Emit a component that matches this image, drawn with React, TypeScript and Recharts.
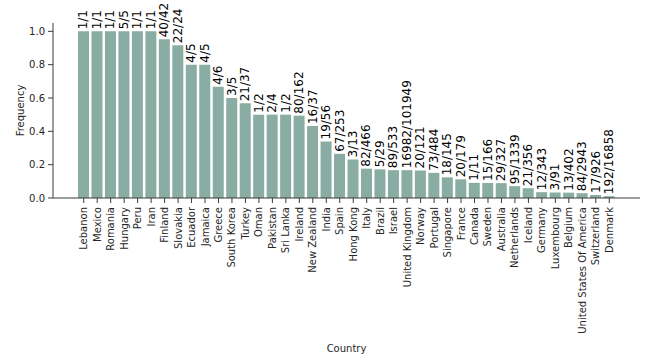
import { Bar, BarChart, Label, LabelList, XAxis, YAxis } from "recharts";

const countries = [
  "Lebanon", "Mexico", "Romania", "Hungary", "Peru", "Iran", "Finland", "Slovakia",
  "Ecuador", "Jamaica", "Greece", "South Korea", "Turkey", "Oman", "Pakistan",
  "Sri Lanka", "Ireland", "New Zealand", "India", "Spain", "Hong Kong", "Italy",
  "Brazil", "Israel", "United Kingdom", "Norway", "Portugal", "Singapore", "France",
  "Canada", "Sweden", "Australia", "Netherlands", "Iceland", "Germany", "Luxembourg",
  "Belgium", "United States Of America", "Switzerland", "Denmark",
];

const frequency = [
  1, 1, 1, 1, 1, 1, 0.952, 0.917,
  0.8, 0.8, 0.667, 0.6, 0.568, 0.5, 0.5,
  0.5, 0.494, 0.432, 0.339, 0.265, 0.231, 0.176,
  0.172, 0.167, 0.167, 0.165, 0.151, 0.124, 0.112,
  0.091, 0.09, 0.089, 0.071, 0.059, 0.035, 0.033,
  0.032, 0.029, 0.018, 0.011,
];

const counts = [
  "1/1", "1/1", "1/1", "5/5", "1/1", "1/1", "40/42", "22/24",
  "4/5", "4/5", "4/6", "3/5", "21/37", "1/2", "2/4",
  "1/2", "80/162", "16/37", "19/56", "67/253", "3/13", "82/466",
  "5/29", "89/533", "16982/101949", "20/121", "73/484", "18/145", "20/179",
  "1/11", "15/166", "29/327", "95/1339", "21/356", "12/343", "3/91",
  "13/402", "84/2943", "17/926", "192/16858",
];

const yTicks = [0, 0.2, 0.4, 0.6, 0.8, 1.0];

const data = countries.map((c, i) => ({ country: c, frequency: frequency[i], count: counts[i] }));

const FONT = "DejaVu Sans, sans-serif";
const AXIS = "#3a3a3a";
const TEXT = "#262626";

function CountryTick({ x, y, payload }: any) {
  return (
    <text
      x={x}
      y={y + 2}
      transform={`rotate(-90, ${x}, ${y + 2})`}
      textAnchor="end"
      dominantBaseline="central"
      fontSize={10}
      fontFamily={FONT}
      fill={TEXT}>
      {payload.value}
    </text>
  );
}

function CountLabel({ x, y, width, value }: any) {
  const cx = x + width / 2;
  const cy = y - 2;
  return (
    <text
      x={cx}
      y={cy}
      transform={`rotate(-90, ${cx}, ${cy})`}
      textAnchor="start"
      dominantBaseline="central"
      fontSize={12}
      fontFamily={FONT}
      fill="#000">
      {value}
    </text>
  );
}

export default function App() {
  return (
    <div style={{ position: "absolute", left: 0, top: 0, background: "#fff" }}>
      <BarChart
        width={650}
        height={360}
        data={data}
        margin={{ top: 23, right: 10, left: 0, bottom: 0 }}>
        <XAxis
          dataKey="country"
          interval={0}
          height={162}
          padding={{ left: 24, right: 24 }}
          axisLine={{ stroke: AXIS }}
          tickLine={{ stroke: AXIS }}
          tickSize={5}
          tick={<CountryTick />}>
          <Label
            value="Country"
            position="insideBottom"
            offset={8}
            fontSize={10}
            fontFamily={FONT}
            fill={TEXT}
          />
        </XAxis>
        <YAxis
          domain={[0, 1.05]}
          ticks={yTicks}
          width={53}
          axisLine={{ stroke: AXIS }}
          tickLine={{ stroke: AXIS }}
          tickSize={5}
          tickMargin={3}
          tickFormatter={(v: number) => v.toFixed(1)}
          tick={{ fontSize: 10, fontFamily: FONT, fill: TEXT }}>
          <Label
            content={({ viewBox }: any) => {
              const cx = 20;
              const cy = viewBox.y + viewBox.height / 2;
              return (
                <text
                  x={cx}
                  y={cy}
                  transform={`rotate(-90, ${cx}, ${cy})`}
                  textAnchor="middle"
                  dominantBaseline="central"
                  fontSize={10}
                  fontFamily={FONT}
                  fill={TEXT}>
                  Frequency
                </text>
              );
            }}
          />
        </YAxis>
        <Bar dataKey="frequency" fill="#8aada3" barSize={11} isAnimationActive={false}>
          <LabelList dataKey="count" content={<CountLabel />} />
        </Bar>
      </BarChart>
    </div>
  );
}
